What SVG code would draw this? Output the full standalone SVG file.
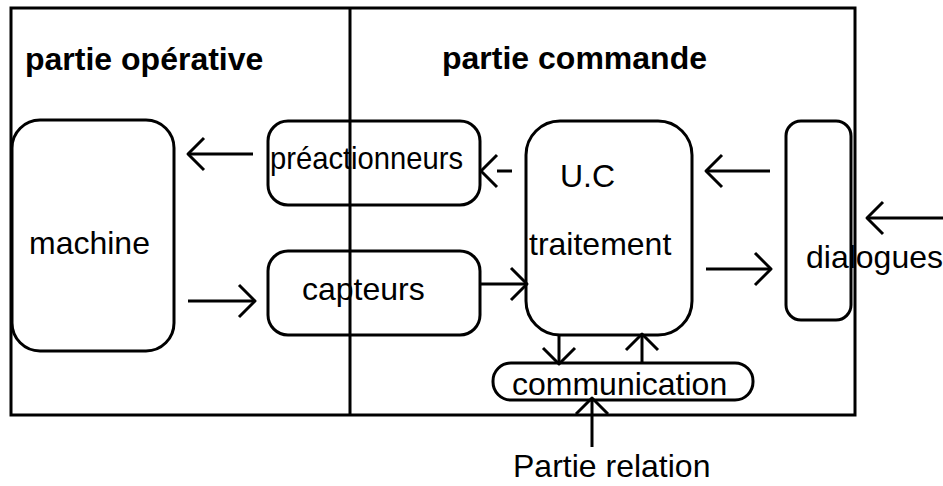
<svg xmlns="http://www.w3.org/2000/svg" width="943" height="486" viewBox="0 0 943 486">
<style>
.box{fill:#fff;stroke:#000;stroke-width:3}
.frame{fill:none;stroke:#000;stroke-width:3}
.lbl{font-family:"Liberation Sans",Arial,sans-serif;font-size:32px;fill:#000}
.title{font-family:"Liberation Sans",Arial,sans-serif;font-size:32px;font-weight:bold;fill:#000}
.conn{fill:none;stroke:#000;stroke-width:3;stroke-linejoin:round}
</style>
<defs>
<marker id="ah" markerUnits="userSpaceOnUse" viewBox="-20 -19 23 38" refX="0" refY="0" markerWidth="23" markerHeight="38" orient="auto">
<path d="M-16,-16 L0,0 L-16,16" fill="none" stroke="#000" stroke-width="3" stroke-linejoin="round"/>
</marker>
</defs>
<g id="titles">
<text class="title" x="25" y="70">partie opérative</text>
<text class="title" x="442" y="69">partie commande</text>
</g>
<g id="machine">
<rect class="box" x="12" y="120" width="162" height="231" rx="28"/>
<text class="lbl" x="29" y="254">machine</text>
</g>
<g id="preactionneurs">
<rect class="box" x="268" y="121" width="212" height="84" rx="20"/>
<text class="lbl" x="270" y="169" textLength="193" lengthAdjust="spacingAndGlyphs">préactionneurs</text>
</g>
<g id="capteurs">
<rect class="box" x="268" y="251" width="212" height="84" rx="20"/>
<text class="lbl" x="302" y="300">capteurs</text>
</g>
<g id="uc">
<rect class="box" x="526" y="121" width="166" height="214" rx="34"/>
<text class="lbl" x="560" y="187">U.C</text>
<text class="lbl" x="529" y="255">traitement</text>
</g>
<g id="dialogues">
<rect class="box" x="786" y="121" width="65" height="199" rx="15"/>
<text class="lbl" x="806" y="268">dialogues</text>
</g>
<g id="communication">
<rect class="box" x="493" y="363" width="260" height="37" rx="18"/>
<text class="lbl" x="512" y="395">communication</text>
</g>
<g id="partie-relation">
<text class="lbl" x="513" y="477">Partie relation</text>
</g>
<g id="frame">
<rect class="frame" x="11" y="8" width="844" height="407"/>
<line class="frame" x1="350" y1="8" x2="350" y2="415"/>
</g>
<g id="connectors">
<line class="conn" x1="253" y1="154" x2="188" y2="154" marker-end="url(#ah)"/>
<line class="conn" x1="188" y1="301" x2="255" y2="301" marker-end="url(#ah)"/>
<path class="conn" d="M512,171 H497 M497,155 L481,171 L497,187"/>
<line class="conn" x1="480" y1="284" x2="527" y2="284" marker-end="url(#ah)"/>
<line class="conn" x1="770" y1="171" x2="706" y2="171" marker-end="url(#ah)"/>
<line class="conn" x1="706" y1="269" x2="771" y2="269" marker-end="url(#ah)"/>
<line class="conn" x1="943" y1="218" x2="867" y2="218" marker-end="url(#ah)"/>
<line class="conn" x1="559" y1="335" x2="559" y2="364" marker-end="url(#ah)"/>
<line class="conn" x1="642" y1="364" x2="642" y2="334" marker-end="url(#ah)"/>
<line class="conn" x1="592" y1="447" x2="592" y2="398" marker-end="url(#ah)"/>
</g>
</svg>
